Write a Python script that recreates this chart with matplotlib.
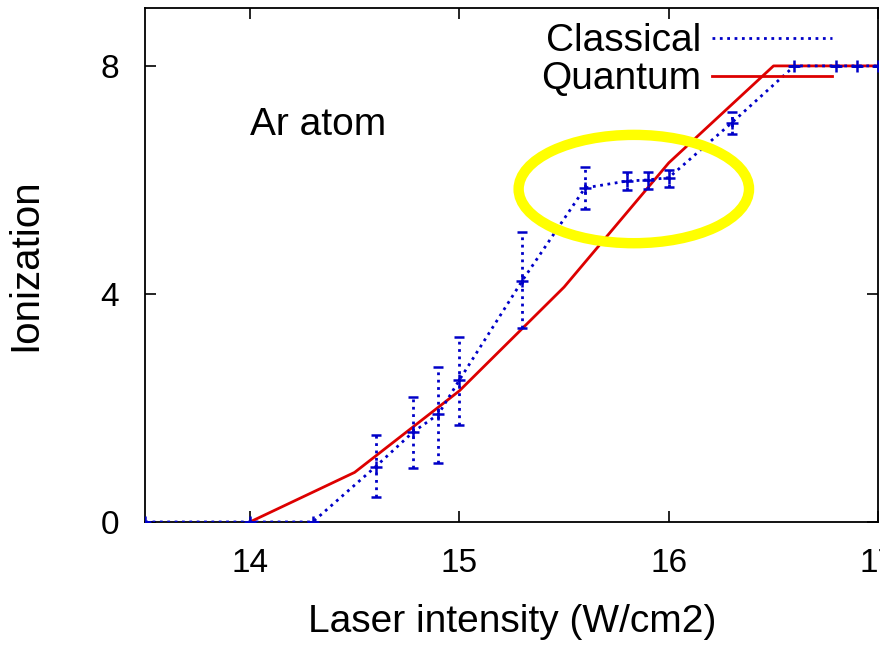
import matplotlib
matplotlib.use("Agg")
import matplotlib.pyplot as plt
from matplotlib.patches import Ellipse
from matplotlib.lines import Line2D

plt.rcParams['font.family'] = ['Liberation Sans', 'DejaVu Sans']

# Classical data (with error bars)
cl_x = [13.5, 14.0, 14.3, 14.6, 14.78, 14.9, 15.0, 15.3, 15.6, 15.8, 15.9, 16.0, 16.3, 16.6, 16.8, 16.9, 17.0]
cl_y = [0.0, 0.0, 0.0, 0.97, 1.58, 1.89, 2.49, 4.23, 5.86, 5.98, 6.0, 6.04, 7.0, 8.0, 8.0, 8.0, 8.0]
cl_lo = [0.0, 0.0, 0.0, 0.44, 0.95, 1.04, 1.70, 3.40, 5.49, 5.82, 5.84, 5.88, 6.81, 8.0, 8.0, 8.0, 8.0]
cl_hi = [0.0, 0.0, 0.0, 1.53, 2.19, 2.72, 3.25, 5.09, 6.23, 6.14, 6.14, 6.18, 7.19, 8.0, 8.0, 8.0, 8.0]

# Quantum data
qu_x = [14.0, 14.5, 15.0, 15.5, 16.0, 16.5, 17.0]
qu_y = [0.0, 0.87, 2.3, 4.12, 6.3, 8.0, 8.0]

x_ticks = [14, 15, 16, 17]
x_ticklabels = ['14', '15', '16', '17']
y_ticks = [0, 4, 8]

fig = plt.figure(figsize=(8.8, 6.46), dpi=100)
ax = fig.add_axes([0.165, 0.192, 0.833, 0.796])

blue = '#0000c8'
red = '#dd0000'

yerr_lo = [y - lo for y, lo in zip(cl_y, cl_lo)]
yerr_hi = [hi - y for y, hi in zip(cl_y, cl_hi)]

ax.plot(qu_x, qu_y, color=red, lw=2.0, zorder=2)
eb = ax.errorbar(cl_x, cl_y, yerr=[yerr_lo, yerr_hi], color=blue, lw=2.0, ls=':',
                 marker='+', ms=9, mew=1.8, capsize=3.5, capthick=1.5,
                 elinewidth=2.0, zorder=3)
for bar in eb[2]:
    bar.set_linestyle(':')

ax.add_patch(Ellipse((15.833, 5.84), 1.10, 1.90, fill=False, edgecolor='#ffff00', lw=7.5, zorder=4))

ax.text(14.0, 6.96, 'Ar atom', fontsize=28, va='center', ha='left')

ax.set_xlim(13.5, 17.0)
ax.set_ylim(0, 9.02)
ax.set_xticks(x_ticks)
ax.set_xticklabels(x_ticklabels)
ax.set_yticks(y_ticks)
ax.tick_params(direction='in', top=True, right=True, length=8, width=1.2, labelsize=24, pad=19)
for s in ax.spines.values():
    s.set_linewidth(1.3)

ax.set_xlabel('Laser intensity (W/cm2)', fontsize=28, labelpad=18)
ax.set_ylabel('Ionization', fontsize=29, labelpad=40)

hc = Line2D([], [], color=blue, ls=':', lw=2.0)
hq = Line2D([], [], color=red, lw=2.0)
ax.legend([hc, hq], ['Classical', 'Quantum'], loc='upper right', bbox_to_anchor=(0.937, 0.970),
          frameon=False, markerfirst=False, fontsize=28, handlelength=3.1,
          handletextpad=0.27, labelspacing=0.05, borderaxespad=0, borderpad=0)

fig.savefig('out.png', dpi=100)
